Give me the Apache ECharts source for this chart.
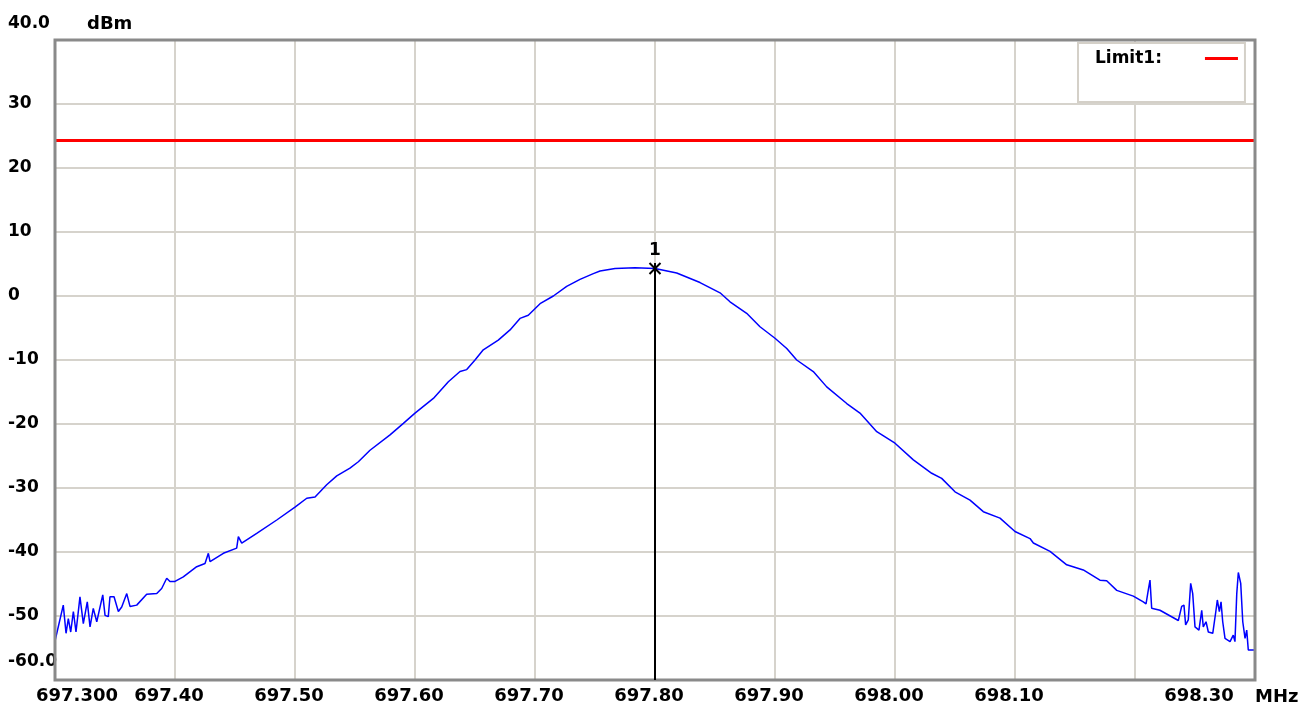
<!DOCTYPE html>
<html>
<head>
<meta charset="utf-8">
<script src="https://cdn.jsdelivr.net/npm/echarts@6/dist/echarts.min.js"></script>
<style>
html,body{margin:0;padding:0;background:#fff;}
#chart{width:1315px;height:709px;}
</style>
</head>
<body>
<div id="chart"></div>
<script>
// ---- data ----
const freqMHz = [
697.3000,697.3069,697.3092,697.3111,697.3131,697.3153,697.3175,697.3208,697.3236,697.3269,
697.3292,697.3319,697.3348,697.3398,697.3417,697.3444,697.3458,697.3492,697.3528,697.3556,
697.3598,697.3625,697.3681,697.3764,697.3848,697.3889,697.3931,697.3958,697.4000,697.4069,
697.4181,697.4250,697.4278,697.4292,697.4403,697.4514,697.4528,697.4556,697.4681,697.4848,
697.5000,697.5098,697.5167,697.5264,697.5348,697.5458,697.5528,697.5625,697.5792,697.5903,
697.6000,697.6153,697.6278,697.6375,697.6431,697.6500,697.6569,697.6694,697.6792,697.6875,
697.6944,697.7042,697.7153,697.7264,697.7375,697.7486,697.7542,697.7667,697.7833,697.8000,
697.8181,697.8375,697.8542,697.8625,697.8764,697.8875,697.9000,697.9098,697.9181,697.9319,
697.9431,697.9598,697.9708,697.9848,698.0000,698.0153,698.0306,698.0389,698.0500,698.0625,
698.0736,698.0875,698.1000,698.1125,698.1153,698.1292,698.1431,698.1569,698.1708,698.1764,
698.1848,698.1986,698.2069,698.2092,698.2111,698.2125,698.2139,698.2208,698.2361,698.2389,
698.2408,698.2422,698.2444,698.2464,698.2481,698.2500,698.2533,698.2556,698.2569,698.2592,
698.2611,698.2648,698.2675,698.2686,698.2703,698.2717,698.2731,698.2750,698.2792,698.2819,
698.2833,698.2848,698.2861,698.2881,698.2898,698.2917,698.2931,698.2944,698.3000
];
const traceDbm = [
-53.9,-48.3,-52.7,-50.4,-52.5,-49.3,-52.5,-47.0,-51.2,-47.8,
-51.7,-48.8,-50.9,-46.7,-49.9,-50.1,-47.0,-47.0,-49.3,-48.6,
-46.5,-48.5,-48.3,-46.6,-46.5,-45.7,-44.1,-44.6,-44.6,-43.9,
-42.3,-41.8,-40.2,-41.5,-40.2,-39.4,-37.6,-38.6,-37.1,-35.0,
-33.0,-31.6,-31.4,-29.5,-28.1,-26.9,-25.9,-24.1,-21.7,-19.9,
-18.3,-16.0,-13.4,-11.8,-11.5,-10.0,-8.4,-6.9,-5.3,-3.5,
-3.0,-1.2,0.0,1.5,2.6,3.5,3.9,4.3,4.4,4.3,
3.6,2.1,0.5,-0.9,-2.7,-4.8,-6.6,-8.2,-10.0,-11.8,
-14.2,-16.8,-18.3,-21.2,-23.0,-25.6,-27.7,-28.5,-30.6,-31.9,
-33.7,-34.7,-36.8,-37.9,-38.6,-39.9,-42.0,-42.8,-44.4,-44.5,
-46.0,-46.9,-47.8,-48.1,-45.9,-44.4,-48.8,-49.1,-50.7,-48.5,
-48.3,-51.4,-50.6,-44.9,-46.5,-51.7,-52.2,-49.1,-51.7,-50.9,
-52.5,-52.7,-49.1,-47.5,-49.3,-47.8,-50.9,-53.5,-54.0,-53.0,
-54.0,-46.5,-43.2,-44.9,-50.9,-53.5,-52.2,-55.3,-55.3
];
const limitName = 'Limit1:';
const limitFreq = [697.3, 698.3];
const limitDbm = [24.3, 24.3];
const markerFreq = 697.8;
const markerDbm = 4.3;
const markerLabel = '1';
const xTickLabels = ['697.300','697.40','697.50','697.60','697.70','697.80','697.90','698.00','698.10','','698.30'];
const yTickLabels = ['-60.0','-50','-40','-30','-20','-10','0','10','20','30','40.0'];
const xUnit = 'MHz';
const yUnit = 'dBm';
const xMin = 697.3, xMax = 698.3, xStep = 0.1;
const yMin = -60, yMax = 40, yStep = 10;

// ---- chart ----
const FONT = 'DejaVu Sans';
const chart = echarts.init(document.getElementById('chart'), null, {renderer: 'canvas'});
const gridColor = '#d6d3cc';
const option = {
  animation: false,
  backgroundColor: '#ffffff',
  grid: {left: 55, top: 40, right: 60, bottom: 29, show: true, borderColor: '#8a8a8a', borderWidth: 3, backgroundColor: 'transparent', z: 5},
  legend: {
    data: [limitName],
    left: 1078, top: 43,
    align: 'right',
    orient: 'vertical',
    backgroundColor: '#ffffff',
    borderColor: '#d4d0c8',
    borderWidth: 2,
    padding: [7, 7, 35, 17],
    itemWidth: 33, itemHeight: 3,
    icon: 'rect',
    selectedMode: false,
    textStyle: {fontFamily: FONT, fontWeight: 'bold', fontSize: 17, color: '#000', padding: [0, 38, 0, 0]}
  },
  xAxis: {
    type: 'value', min: xMin, max: xMax, interval: xStep,
    name: xUnit, nameLocation: 'end', nameGap: 0,
    nameTextStyle: {fontFamily: FONT, fontWeight: 'bold', fontSize: 18, color: '#000', align: 'left', verticalAlign: 'top', padding: [8, 0, 0, 0]},
    axisLine: {show: false, onZero: false}, axisTick: {show: false},
    splitLine: {show: true, showMinLine: false, showMaxLine: false, lineStyle: {color: gridColor, width: 2}},
    axisLabel: {
      margin: 7, showMinLabel: true, showMaxLabel: true,
      fontFamily: FONT, fontWeight: 'bold', fontSize: 18, color: '#000',
      formatter: function (v) {
        const i = Math.round((v - xMin) / xStep);
        const t = xTickLabels[i] || '';
        if (!t) return '';
        if (i === 0) return '{f|' + t + '}';
        if (i === xTickLabels.length - 1) return '{l|' + t + '}';
        return '{n|' + t + '}';
      },
      rich: {
        n: {fontFamily: FONT, fontWeight: 'bold', fontSize: 18, color: '#000', padding: [0, 12, 0, 0]},
        f: {fontFamily: FONT, fontWeight: 'bold', fontSize: 18, color: '#000', padding: [0, 0, 0, 44]},
        l: {fontFamily: FONT, fontWeight: 'bold', fontSize: 18, color: '#000', padding: [0, 112, 0, 0]}
      }
    }
  },
  yAxis: {
    type: 'value', min: yMin, max: yMax, interval: yStep,
    name: yUnit, nameLocation: 'end', nameGap: 16,
    nameTextStyle: {fontFamily: FONT, fontWeight: 'bold', fontSize: 18, color: '#000', align: 'left', verticalAlign: 'middle', padding: [0, 0, 0, 32]},
    axisLine: {show: false, onZero: false}, axisTick: {show: false},
    splitLine: {show: true, showMinLine: false, showMaxLine: false, lineStyle: {color: gridColor, width: 2}},
    axisLabel: {
      margin: 47, align: 'left', showMinLabel: true, showMaxLabel: true,
      fontFamily: FONT, fontWeight: 'bold', fontSize: 17, color: '#000',
      formatter: function (v) {
        const i = Math.round((v - yMin) / yStep);
        const t = yTickLabels[i];
        if (i === 0) return '{b|' + t + '}';
        if (i === yTickLabels.length - 1) return '{t|' + t + '}';
        return '{n|' + t + '}';
      },
      rich: {
        n: {fontFamily: FONT, fontWeight: 'bold', fontSize: 17, color: '#000'},
        t: {fontFamily: FONT, fontWeight: 'bold', fontSize: 17, color: '#000', padding: [0, 0, 32, 0]},
        b: {fontFamily: FONT, fontWeight: 'bold', fontSize: 17, color: '#000', padding: [0, 0, 36, 0]}
      }
    }
  },
  series: [
    {
      name: limitName, type: 'line', showSymbol: false, symbol: 'none',
      data: limitFreq.map((f, i) => [f, limitDbm[i]]),
      lineStyle: {color: '#ff0000', width: 3}, itemStyle: {color: '#ff0000'}, z: 3
    },
    {
      name: 'Trace', type: 'line', showSymbol: false, symbol: 'none',
      data: freqMHz.map((f, i) => [f, traceDbm[i]]),
      lineStyle: {color: '#0000ff', width: 1.5}, itemStyle: {color: '#0000ff'}, z: 4,
      markLine: {
        silent: true, symbol: 'none', animation: false,
        lineStyle: {color: '#000', width: 2, type: 'solid'},
        label: {show: false},
        data: [[{coord: [markerFreq, markerDbm]}, {coord: [markerFreq, yMin]}]]
      },
      markPoint: {
        silent: true, animation: false,
        symbol: 'path://M0,0 L10,10 M10,0 L0,10 M5,0 L5,10',
        symbolSize: [11, 11],
        itemStyle: {color: 'none', borderColor: '#000', borderWidth: 2},
        label: {show: true, position: 'top', distance: 1, formatter: markerLabel, fontFamily: FONT, fontWeight: 'bold', fontSize: 17, color: '#000'},
        data: [{coord: [markerFreq, markerDbm]}]
      }
    }
  ]
};
chart.setOption(option);
</script>
</body>
</html>
